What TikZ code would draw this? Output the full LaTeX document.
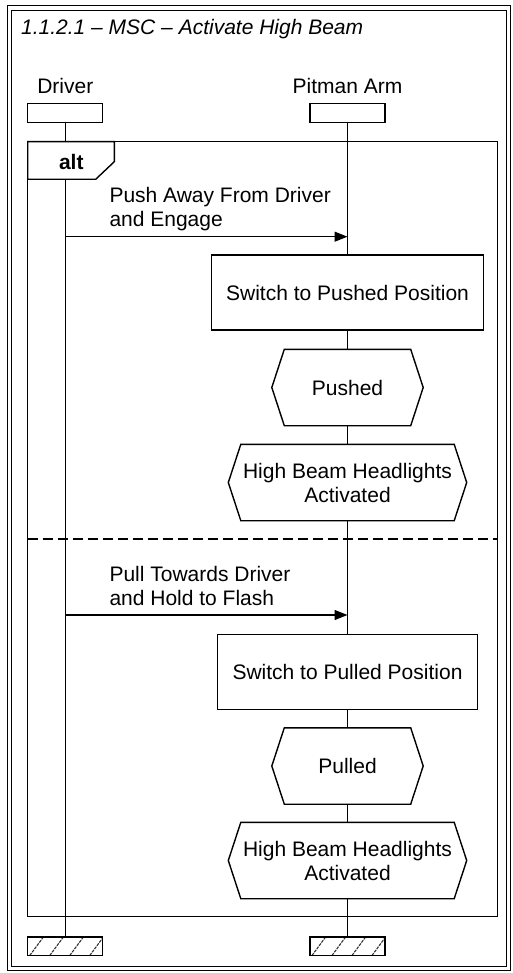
\documentclass[tikz,border=0pt]{standalone}
\usepackage{fontspec}
\setmainfont{Liberation Sans}
\usetikzlibrary{arrows.meta}
\newcommand\hexfrom[1]{\draw[ln] (#1.west) -- ([xshift=12.5pt]#1.north west) -- ([xshift=-12.5pt]#1.north east) -- (#1.east) -- ([xshift=-12.5pt]#1.south east) -- ([xshift=12.5pt]#1.south west) -- cycle;}
\begin{document}
\begin{tikzpicture}[x=1pt,y=-1pt,
  txt/.style={font=\fontsize{21}{24}\selectfont, inner sep=0pt},
  ln/.style={line width=1.4pt, line join=miter},
  frameline/.style={line width=1pt},
  headbox/.style={draw, line width=1.3pt, minimum width=75pt, minimum height=18.5pt, inner sep=0pt},
  hatch/.style={line width=1.1pt, draw=black!80, dash pattern=on 3pt off 1pt},
  stopbox/.style={headbox, path picture={\foreach \k in {0,...,3}{\draw[hatch] ([xshift=2pt+\k*20pt]path picture bounding box.south west) -- ++(14pt,19pt);}}},
  actbox/.style={txt, draw, line width=1.4pt, minimum height=75pt, align=center},
  hexnode/.style={txt, minimum height=76pt, align=center},
  msg/.style={ln, -{Triangle[length=13pt,width=10pt]}},
]
\useasboundingbox (0,0) rectangle (512,973);
% outer frame
\draw[frameline] (7,6) rectangle (510,970.5);
\draw[frameline] (11.2,10.5) rectangle (506,966);
\node[txt, font=\fontsize{21}{24}\selectfont\itshape, anchor=base west] (title) at (21,35) {1.1.2.1 – MSC – Activate High Beam};
% lifeline heads
\node[txt, anchor=base] (lblD) at (65.3,93.3) {Driver};
\node[txt, anchor=base] (lblP) at (347.5,93.3) {Pitman Arm};
\node[headbox] (headD) at (65.3,113) {};
\node[headbox] (headP) at (347.5,113) {};
% lifeline stops
\node[stopbox] (stopD) at (65.3,946.2) {};
\node[stopbox] (stopP) at (347.5,946.2) {};
% alt fragment
\draw[ln] (27.7,141.7) rectangle (497.7,916.7);
\draw[ln, dash pattern=on 10pt off 5pt] (27.7,539) -- (497.7,539);
% driver lifeline
\draw[ln] (headD) -- (stopD);
% alt tab
\draw[ln, fill=white] (27.7,179.3) -- (95.7,179.3) -- (114.3,161.7) -- (114.3,141.7) -- (27.7,141.7) -- cycle;
\node[txt, font=\fontsize{21}{24}\selectfont\bfseries, anchor=base] (alt) at (71.3,170) {alt};
% pitman activities
\node[actbox, minimum width=272pt] (sw1) at (347.5,292.5) {Switch to Pushed Position};
\node[hexnode, minimum width=151pt] (push) at (347.5,387.5) {Pushed};
\node[hexnode, minimum width=238pt] (hb1) at (347.5,482.5) {High Beam Headlights\\Activated};
\node[actbox, minimum width=259.5pt] (sw2) at (347.5,672) {Switch to Pulled Position};
\node[hexnode, minimum width=151pt] (pull) at (347.5,766) {Pulled};
\node[hexnode, minimum width=238pt] (hb2) at (347.5,860.5) {High Beam Headlights\\Activated};
\hexfrom{push}
\hexfrom{hb1}
\hexfrom{pull}
\hexfrom{hb2}
% pitman lifeline segments
\draw[ln] (headP) -- (sw1);
\draw[ln] (sw1) -- (push);
\draw[ln] (push) -- (hb1);
\draw[ln] (hb1) -- (sw2);
\draw[ln] (sw2) -- (pull);
\draw[ln] (pull) -- (hb2);
\draw[ln] (hb2) -- (stopP);
% messages
\coordinate (y1) at (0,236.7);
\coordinate (y2) at (0,615);
\node[txt, anchor=base west] (m1a) at (109.3,202.7) {Push Away From Driver};
\node[txt, anchor=base west] (m1b) at (109.3,226.7) {and Engage};
\draw[msg] (headD |- y1) -- (headP |- y1);
\node[txt, anchor=base west] (m2a) at (109.3,581.3) {Pull Towards Driver};
\node[txt, anchor=base west] (m2b) at (109.3,605.5) {and Hold to Flash};
\draw[msg] (headD |- y2) -- (headP |- y2);
\end{tikzpicture}
\end{document}
